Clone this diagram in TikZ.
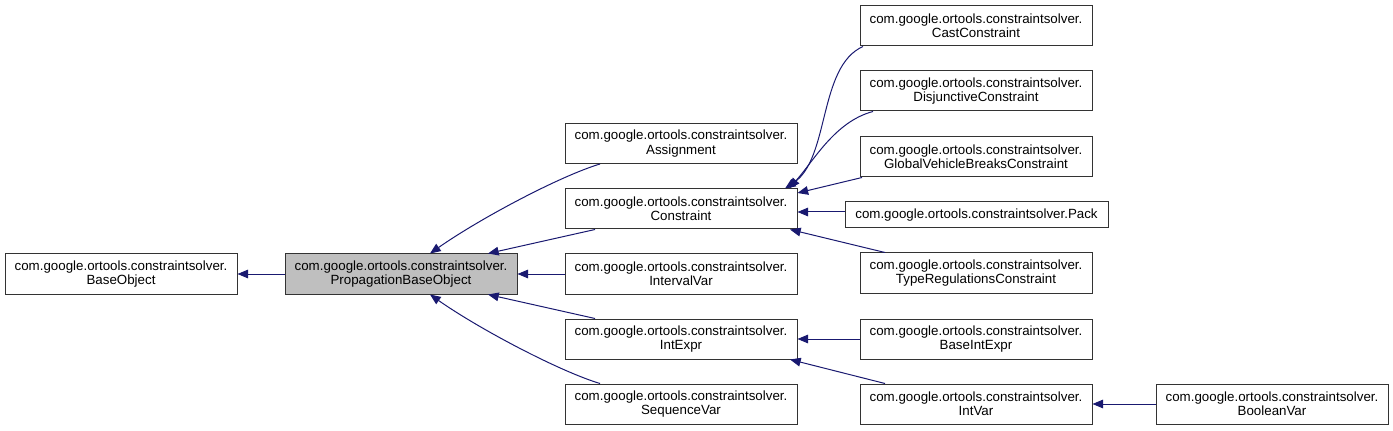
\documentclass[tikz,border=0pt]{standalone}
\usepackage{fontspec}
\setmainfont{Liberation Sans}
\usetikzlibrary{arrows.meta,calc}
\definecolor{edgeblue}{HTML}{191970}
\definecolor{boxgray}{HTML}{BFBFBF}
\definecolor{boxline}{HTML}{333333}
\begin{document}
\begin{tikzpicture}[x=0.75pt,y=-0.75pt,
  cls/.style={draw=boxline,line width=0.75pt,fill=white,align=center,
    minimum width=174pt,minimum height=30pt,inner sep=0pt,
    font=\fontsize{10}{10.7}\selectfont},
  single/.style={cls,minimum width=197.25pt,minimum height=19.5pt},
  current/.style={cls,fill=boxgray},
  edge/.style={draw=edgeblue,line width=0.75pt,
    -{Triangle[length=8pt,width=6.5pt]}}]
\useasboundingbox (0,0) rectangle (1393,431);
\node[cls] (base) at (121,274) {com.google.ortools.constraintsolver.\\BaseObject};
\node[current] (pbo) at (401,274) {com.google.ortools.constraintsolver.\\PropagationBaseObject};
\node[cls] (assign) at (681,143.5) {com.google.ortools.constraintsolver.\\Assignment};
\node[cls] (constraint) at (681,209) {com.google.ortools.constraintsolver.\\Constraint};
\node[cls] (interval) at (681,274) {com.google.ortools.constraintsolver.\\IntervalVar};
\node[cls] (intexpr) at (681,339) {com.google.ortools.constraintsolver.\\IntExpr};
\node[cls] (seqvar) at (681,404) {com.google.ortools.constraintsolver.\\SequenceVar};
\node[cls] (cast) at (976,26) {com.google.ortools.constraintsolver.\\CastConstraint};
\node[cls] (disj) at (976,91) {com.google.ortools.constraintsolver.\\DisjunctiveConstraint};
\node[cls] (global) at (976,157) {com.google.ortools.constraintsolver.\\GlobalVehicleBreaksConstraint};
\node[single] (pack) at (976.5,215) {com.google.ortools.constraintsolver.Pack};
\node[cls] (typereg) at (976,273) {com.google.ortools.constraintsolver.\\TypeRegulationsConstraint};
\node[cls] (baseintexpr) at (976,339) {com.google.ortools.constraintsolver.\\BaseIntExpr};
\node[cls] (intvar) at (976,404) {com.google.ortools.constraintsolver.\\IntVar};
\node[cls] (boolvar) at (1272,404) {com.google.ortools.constraintsolver.\\BooleanVar};

\draw[edge] (pbo.west) -- (base.east);
\draw[edge] ($(assign.south)+(-81,0)$) .. controls +(-40,12) and +(50,-35) .. ($(pbo.north)+(29,0)$);
\draw[edge] ($(constraint.south)+(-86,0)$) -- ($(pbo.north)+(87,0)$);
\draw[edge] (interval.west) -- (pbo.east);
\draw[edge] ($(intexpr.north)+(-86,0)$) -- ($(pbo.south)+(87,0)$);
\draw[edge] ($(seqvar.north)+(-81,0)$) .. controls +(-40,-12) and +(50,35) .. ($(pbo.south)+(29,0)$);
\draw[edge] ($(cast.south)+(-113,0)$) .. controls +(-45,20) and +(45,-30) .. ($(constraint.north)+(104,0)$);
\draw[edge] ($(disj.south)+(-103,0)$) .. controls +(-38,10) and +(25,-28) .. ($(constraint.north)+(108,0)$);
\draw[edge] ($(global.south)+(-114,0)$) -- ($(constraint.east)+(0,-16)$);
\draw[edge] ($(pack.west)+(0,-3)$) -- ($(constraint.east)+(0,3)$);
\draw[edge] ($(typereg.north)+(-91,0)$) -- ($(constraint.south)+(109,0)$);
\draw[edge] (baseintexpr.west) -- (intexpr.east);
\draw[edge] ($(intvar.north)+(-91,0)$) -- ($(intexpr.south)+(109,0)$);
\draw[edge] (boolvar.west) -- (intvar.east);
\end{tikzpicture}
\end{document}
